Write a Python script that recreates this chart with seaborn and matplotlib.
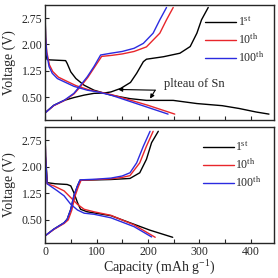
import matplotlib
matplotlib.use("Agg")
import matplotlib.pyplot as plt
from matplotlib.ticker import MultipleLocator, FixedLocator
import pandas as pd
import seaborn as sns

# --- data (capacity in mAh/g, voltage in V) ---
cycle_labels = [r"1$^{\rm st}$", r"10$^{\rm th}$", r"100$^{\rm th}$"]
cycle_colors = ["black", "#e8262b", "#2b2be0"]

# top panel
top_dis_cap = [
    [0, 1, 2, 4, 10, 25, 40, 43, 50, 60, 76, 95, 128, 165, 197, 249, 295, 344, 377, 410, 435],
    [0, 1, 3.5, 8.5, 15, 26, 40, 60, 85, 105, 130, 165, 200, 252],
    [0, 1, 3.2, 7.8, 14, 24, 37, 56, 82, 102, 128, 165, 200, 239],
]
top_dis_v = [
    [3.0, 2.3, 1.7, 1.57, 1.56, 1.55, 1.54, 1.46, 1.22, 1.03, 0.84, 0.70, 0.56, 0.46, 0.41, 0.41, 0.32, 0.26, 0.18, 0.08, 0.02],
    [2.9, 2.2, 1.78, 1.42, 1.23, 1.07, 0.97, 0.83, 0.71, 0.65, 0.57, 0.42, 0.27, 0.02],
    [2.9, 2.2, 1.75, 1.37, 1.18, 1.03, 0.94, 0.81, 0.70, 0.65, 0.56, 0.38, 0.21, 0.02],
]
top_chg_cap = [
    [0, 17, 37, 56, 76, 95, 115, 128, 147, 166, 178, 191, 197, 230, 262, 282, 295, 304, 317],
    [0, 17, 37, 56, 70, 83, 96, 110, 130, 150, 173, 197, 223, 236, 249],
    [0, 17, 37, 56, 69, 82, 95, 108, 128, 150, 173, 191, 210, 223, 236],
]
top_chg_v = [
    [0.06, 0.27, 0.41, 0.49, 0.56, 0.61, 0.62, 0.65, 0.75, 0.92, 1.18, 1.51, 1.58, 1.65, 1.75, 1.94, 2.32, 2.7, 3.05],
    [0.05, 0.26, 0.40, 0.59, 0.82, 1.06, 1.35, 1.66, 1.69, 1.73, 1.80, 1.93, 2.32, 2.7, 3.05],
    [0.05, 0.27, 0.41, 0.61, 0.84, 1.08, 1.37, 1.70, 1.75, 1.80, 1.89, 2.03, 2.32, 2.7, 3.05],
]

# bottom panel
bot_dis_cap = [
    [0, 1, 4.5, 20, 43, 50, 56, 63, 69, 82, 128, 165, 204, 248],
    [0, 1, 4, 17, 37, 50, 63, 76, 95, 128, 173, 214],
    [0, 1, 4, 24, 37, 50, 63, 76, 95, 128, 173, 207],
]
bot_dis_v = [
    [3.0, 2.3, 1.55, 1.52, 1.50, 1.46, 1.27, 0.99, 0.80, 0.73, 0.62, 0.42, 0.21, 0.01],
    [3.0, 2.3, 1.52, 1.46, 1.32, 1.13, 0.94, 0.80, 0.73, 0.63, 0.36, 0.01],
    [3.0, 2.3, 1.52, 1.32, 1.18, 0.94, 0.78, 0.69, 0.66, 0.56, 0.31, 0.02],
]
bot_chg_cap = [
    [0, 17, 37, 43, 50, 56, 63, 68, 100, 128, 165, 184, 197, 207, 220],
    [0, 17, 37, 45, 52, 58, 65, 70, 100, 128, 150, 165, 184, 197, 210],
    [0, 17, 37, 43, 50, 56, 63, 68, 100, 128, 150, 165, 178, 191, 204],
]
bot_chg_v = [
    [0.05, 0.24, 0.42, 0.52, 0.80, 1.18, 1.46, 1.62, 1.63, 1.64, 1.67, 1.83, 2.21, 2.68, 3.0],
    [0.05, 0.23, 0.40, 0.50, 0.78, 1.16, 1.45, 1.62, 1.64, 1.66, 1.70, 1.75, 2.11, 2.58, 3.0],
    [0.05, 0.24, 0.42, 0.52, 0.80, 1.18, 1.46, 1.63, 1.65, 1.68, 1.74, 1.83, 2.11, 2.58, 3.0],
]

sns.set_style("ticks")
plt.rcParams["font.family"] = ["Liberation Serif", "DejaVu Serif"]
plt.rcParams["mathtext.fontset"] = "custom"
plt.rcParams["mathtext.rm"] = "Liberation Serif"
plt.rcParams["mathtext.it"] = "Liberation Serif:italic"
plt.rcParams["mathtext.bf"] = "Liberation Serif:bold"


def draw_panel(ax, dis_cap, dis_v, chg_cap, chg_v, legend_anchor):
    for i in range(3):
        df_d = pd.DataFrame({"cap": dis_cap[i], "v": dis_v[i]})
        df_c = pd.DataFrame({"cap": chg_cap[i], "v": chg_v[i]})
        sns.lineplot(data=df_d, x="cap", y="v", sort=False, color=cycle_colors[i],
                     linewidth=1.0, ax=ax, label=cycle_labels[i])
        sns.lineplot(data=df_c, x="cap", y="v", sort=False, color=cycle_colors[i],
                     linewidth=1.0, ax=ax)
    ax.set_xlim(0, 445)
    ax.set_ylim(-0.15, 3.12)
    ax.yaxis.set_major_locator(FixedLocator([0.5, 1.25, 2.0, 2.75]))
    ax.yaxis.set_major_formatter(matplotlib.ticker.FormatStrFormatter("%.2f"))
    ax.xaxis.set_major_locator(MultipleLocator(100))
    ax.xaxis.set_minor_locator(MultipleLocator(50))
    ax.tick_params(axis="both", which="both", direction="in", labelsize=8.5,
                   length=3, width=0.8, pad=2)
    ax.set_ylabel("Voltage (V)", fontsize=10, labelpad=4)
    for s in ax.spines.values():
        s.set_linewidth(1.0)
    ax.legend(loc="upper right", bbox_to_anchor=legend_anchor, frameon=False, fontsize=8.5,
              handlelength=2.6, handletextpad=0.15, labelspacing=0.3, borderaxespad=0.0)


fig = plt.figure(figsize=(2.78, 2.78), dpi=100)
ax1 = fig.add_axes([0.162, 0.568, 0.824, 0.414])
ax2 = fig.add_axes([0.162, 0.126, 0.824, 0.417])

draw_panel(ax1, top_dis_cap, top_dis_v, top_chg_cap, top_chg_v, (0.975, 0.955))
draw_panel(ax2, bot_dis_cap, bot_dis_v, bot_chg_cap, bot_chg_v, (0.965, 0.93))

ax1.set_xlabel("")
ax1.tick_params(axis="x", labelbottom=False)
ax2.set_xlabel(r"Capacity (mAh g$^{-1}$)", fontsize=10, labelpad=1)

# annotation for the Sn plateau
arrow = dict(arrowstyle="-|>", color="black", lw=0.8, mutation_scale=6, shrinkA=0, shrinkB=0)
ax1.annotate("", xy=(142, 0.72), xytext=(214, 0.70), arrowprops=arrow)
ax1.annotate("", xy=(204, 0.46), xytext=(214, 0.70), arrowprops=arrow)
ax1.text(232, 0.88, "plteau of Sn", fontsize=9, va="center", ha="left")

fig.savefig("out.png", dpi=100)
